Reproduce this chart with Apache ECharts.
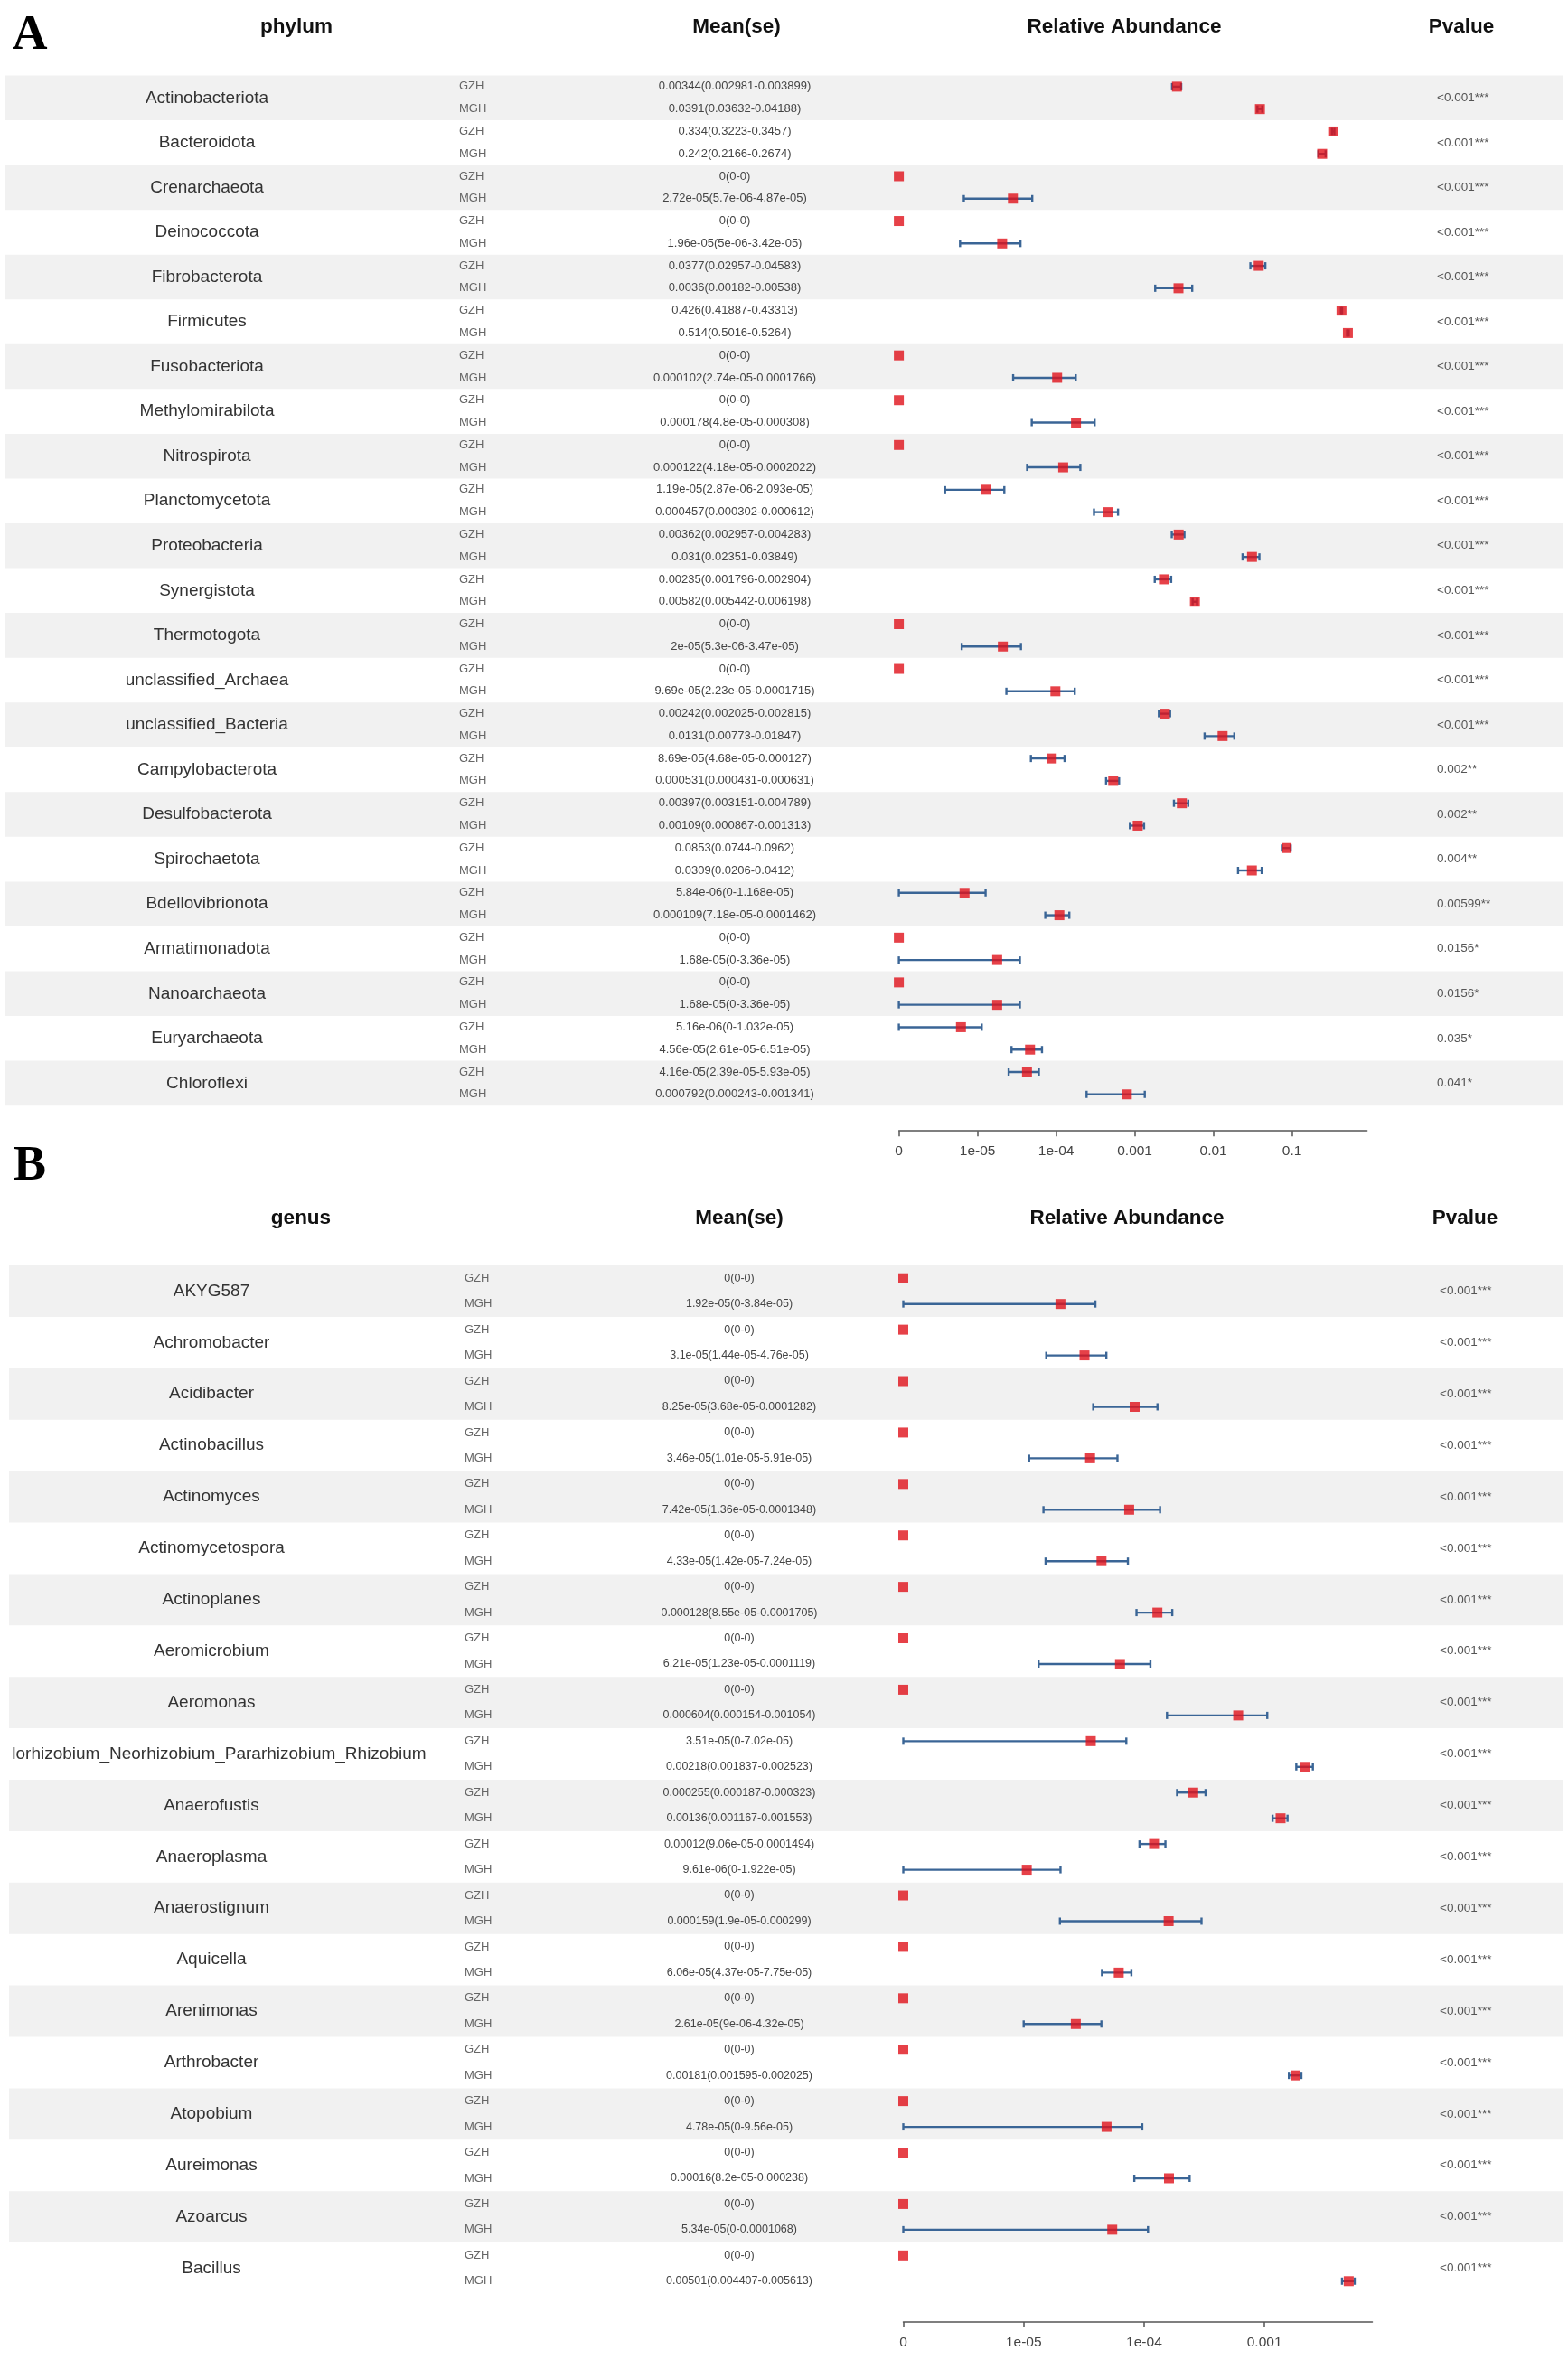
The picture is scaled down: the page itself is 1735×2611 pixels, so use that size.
<!DOCTYPE html>
<html>
<head>
<meta charset="utf-8">
<script src="https://cdn.jsdelivr.net/npm/echarts@6/dist/echarts.min.js"></script>
<style>
html,body{margin:0;padding:0;background:#fff;}
#chart{width:1735px;height:2611px;}
</style>
</head>
<body>
<div id="chart"></div>
<script>
// ---------------- Panel A : phylum ----------------
const TAXA_A = ["Actinobacteriota","Bacteroidota","Crenarchaeota","Deinococcota","Fibrobacterota","Firmicutes","Fusobacteriota","Methylomirabilota","Nitrospirota","Planctomycetota","Proteobacteria","Synergistota","Thermotogota","unclassified_Archaea","unclassified_Bacteria","Campylobacterota","Desulfobacterota","Spirochaetota","Bdellovibrionota","Armatimonadota","Nanoarchaeota","Euryarchaeota","Chloroflexi"];
const GZH_MEAN_A = [0.00344,0.334,0,0,0.0377,0.426,0,0,0,1.19e-05,0.00362,0.00235,0,0,0.00242,8.69e-05,0.00397,0.0853,5.84e-06,0,0,5.16e-06,4.16e-05];
const GZH_LO_A   = [0.002981,0.3223,0,0,0.02957,0.41887,0,0,0,2.87e-06,0.002957,0.001796,0,0,0.002025,4.68e-05,0.003151,0.0744,0,0,0,0,2.39e-05];
const GZH_HI_A   = [0.003899,0.3457,0,0,0.04583,0.43313,0,0,0,2.093e-05,0.004283,0.002904,0,0,0.002815,0.000127,0.004789,0.0962,1.168e-05,0,0,1.032e-05,5.93e-05];
const MGH_MEAN_A = [0.0391,0.242,2.72e-05,1.96e-05,0.0036,0.514,0.000102,0.000178,0.000122,0.000457,0.031,0.00582,2e-05,9.69e-05,0.0131,0.000531,0.00109,0.0309,0.000109,1.68e-05,1.68e-05,4.56e-05,0.000792];
const MGH_LO_A   = [0.03632,0.2166,5.7e-06,5e-06,0.00182,0.5016,2.74e-05,4.8e-05,4.18e-05,0.000302,0.02351,0.005442,5.3e-06,2.23e-05,0.00773,0.000431,0.000867,0.0206,7.18e-05,0,0,2.61e-05,0.000243];
const MGH_HI_A   = [0.04188,0.2674,4.87e-05,3.42e-05,0.00538,0.5264,0.0001766,0.000308,0.0002022,0.000612,0.03849,0.006198,3.47e-05,0.0001715,0.01847,0.000631,0.001313,0.0412,0.0001462,3.36e-05,3.36e-05,6.51e-05,0.001341];
const PVAL_A = ["<0.001***","<0.001***","<0.001***","<0.001***","<0.001***","<0.001***","<0.001***","<0.001***","<0.001***","<0.001***","<0.001***","<0.001***","<0.001***","<0.001***","<0.001***","0.002**","0.002**","0.004**","0.00599**","0.0156*","0.0156*","0.035*","0.041*"];
const TICK_VALUES_A = [0,1e-05,1e-04,0.001,0.01,0.1];
const TICK_LABELS_A = ["0","1e-05","1e-04","0.001","0.01","0.1"];

// ---------------- Panel B : genus ----------------
const TAXA_B = ["AKYG587","Achromobacter","Acidibacter","Actinobacillus","Actinomyces","Actinomycetospora","Actinoplanes","Aeromicrobium","Aeromonas","Allorhizobium_Neorhizobium_Pararhizobium_Rhizobium","Anaerofustis","Anaeroplasma","Anaerostignum","Aquicella","Arenimonas","Arthrobacter","Atopobium","Aureimonas","Azoarcus","Bacillus"];
const GZH_MEAN_B = [0,0,0,0,0,0,0,0,0,3.51e-05,0.000255,0.00012,0,0,0,0,0,0,0,0];
const GZH_LO_B   = [0,0,0,0,0,0,0,0,0,0,0.000187,9.06e-05,0,0,0,0,0,0,0,0];
const GZH_HI_B   = [0,0,0,0,0,0,0,0,0,7.02e-05,0.000323,0.0001494,0,0,0,0,0,0,0,0];
const MGH_MEAN_B = [1.92e-05,3.1e-05,8.25e-05,3.46e-05,7.42e-05,4.33e-05,0.000128,6.21e-05,0.000604,0.00218,0.00136,9.61e-06,0.000159,6.06e-05,2.61e-05,0.00181,4.78e-05,0.00016,5.34e-05,0.00501];
const MGH_LO_B   = [0,1.44e-05,3.68e-05,1.01e-05,1.36e-05,1.42e-05,8.55e-05,1.23e-05,0.000154,0.001837,0.001167,0,1.9e-05,4.37e-05,9e-06,0.001595,0,8.2e-05,0,0.004407];
const MGH_HI_B   = [3.84e-05,4.76e-05,0.0001282,5.91e-05,0.0001348,7.24e-05,0.0001705,0.0001119,0.001054,0.002523,0.001553,1.922e-05,0.000299,7.75e-05,4.32e-05,0.002025,9.56e-05,0.000238,0.0001068,0.005613];
const PVAL_B = ["<0.001***","<0.001***","<0.001***","<0.001***","<0.001***","<0.001***","<0.001***","<0.001***","<0.001***","<0.001***","<0.001***","<0.001***","<0.001***","<0.001***","<0.001***","<0.001***","<0.001***","<0.001***","<0.001***","<0.001***"];
const TICK_VALUES_B = [0,1e-05,1e-04,0.001];
const TICK_LABELS_B = ["0","1e-05","1e-04","0.001"];

const GROUPS = ["GZH","MGH"];

// ---------------- helpers ----------------
const FONT = "'Liberation Sans', Arial, Helvetica, sans-serif";
function xt(v){ return Math.log10(v + 1e-6); }          // pseudo-log position of a value
function tickPos(t){ return t === 0 ? -6 : Math.log10(t); }
function fmtR(v){                                         // R-like print of a number
  if (v === 0) return "0";
  const fixed = String(v);
  const ex = v.toExponential().split("e");
  const ev = parseInt(ex[1], 10);
  const sci = ex[0] + "e" + (ev < 0 ? "-" : "+") + String(Math.abs(ev)).padStart(2, "0");
  return fixed.length <= sci.length ? fixed : sci;
}
function meanSe(m, lo, hi){ return fmtR(m) + "(" + fmtR(lo) + "-" + fmtR(hi) + ")"; }

const panels = [
  { taxa: TAXA_A, gm: GZH_MEAN_A, gl: GZH_LO_A, gh: GZH_HI_A, mm: MGH_MEAN_A, ml: MGH_LO_A, mh: MGH_HI_A, p: PVAL_A,
    ticks: TICK_VALUES_A, tickLabels: TICK_LABELS_A,
    left: 994.6, width: 518, top: 83.5, rowH: 49.55, xmax: -0.046, axisOffset: 28,
    bandLeft: 5, nameX: 229, groupX: 508, meanX: 813, pX: 1590, meanFont: 13, groupFont: 13, pFont: 13.5 },
  { taxa: TAXA_B, gm: GZH_MEAN_B, gl: GZH_LO_B, gh: GZH_HI_B, mm: MGH_MEAN_B, ml: MGH_LO_B, mh: MGH_HI_B, p: PVAL_B,
    ticks: TICK_VALUES_B, tickLabels: TICK_LABELS_B,
    left: 999.5, width: 519, top: 1400, rowH: 56.9, xmax: -2.104, axisOffset: 31,
    bandLeft: 10, nameX: 234, groupX: 514, meanX: 818, pX: 1593, meanFont: 12.5, groupFont: 13, pFont: 13.5 }
];

const grid = [], xAxis = [], yAxis = [], series = [];

panels.forEach((P, idx) => {
  const n = P.taxa.length;
  const rows = [];
  for (let k = 0; k < n; k++) {
    rows.push({ r: 2*k,   g: GROUPS[0], m: P.gm[k], lo: P.gl[k], hi: P.gh[k] });
    rows.push({ r: 2*k+1, g: GROUPS[1], m: P.mm[k], lo: P.ml[k], hi: P.mh[k] });
  }
  grid.push({ left: P.left, top: P.top, width: P.width, height: P.rowH * n, containLabel: false, outerBoundsMode: 'none' });
  const labMap = {};
  P.ticks.forEach((t, i) => { labMap[tickPos(t).toFixed(3)] = P.tickLabels[i]; });
  const tickVals = P.ticks.map(tickPos);
  xAxis.push({
    gridIndex: idx, type: 'value', min: -6, max: P.xmax, position: 'bottom', offset: P.axisOffset,
    axisLine: { show: true, onZero: false, lineStyle: { color: '#555', width: 1.5 } },
    axisTick: { show: true, customValues: tickVals, length: 6, lineStyle: { color: '#555', width: 1.5 } },
    axisLabel: { show: true, customValues: tickVals, color: '#444', fontSize: 15.5, fontFamily: FONT, margin: 15,
                 formatter: v => { const s = labMap[Number(v).toFixed(3)]; return s === undefined ? '' : s; } },
    splitLine: { show: false }
  });
  yAxis.push({ gridIndex: idx, type: 'value', min: 0, max: 2*n, inverse: true, show: false });

  // background bands + taxon name + p value
  series.push({
    type: 'custom', xAxisIndex: idx, yAxisIndex: idx, clip: false, silent: true, z: 1,
    data: P.taxa.map((t, k) => [-6, 2*k, k]),
    encode: { x: 0, y: 1 },
    renderItem: (params, api) => {
      const k = api.value(2);
      const y0 = api.coord([-6, 2*k])[1], y1 = api.coord([-6, 2*k + 2])[1];
      const mid = (y0 + y1) / 2;
      const ch = [];
      if (k % 2 === 0) ch.push({ type: 'rect', shape: { x: P.bandLeft, y: y0, width: 1730 - P.bandLeft, height: y1 - y0 }, style: { fill: '#f1f1f1' } });
      ch.push({ type: 'text', style: { text: P.taxa[k], x: P.nameX, y: mid, align: 'center', verticalAlign: 'middle', fill: '#333', font: '19px ' + FONT } });
      ch.push({ type: 'text', style: { text: P.p[k], x: P.pX, y: mid, align: 'left', verticalAlign: 'middle', fill: '#555', font: P.pFont + 'px ' + FONT } });
      return { type: 'group', children: ch };
    }
  });

  // group label + mean(se) text per row
  series.push({
    type: 'custom', xAxisIndex: idx, yAxisIndex: idx, clip: false, silent: true, z: 2,
    data: rows.map((o, i) => [-6, o.r + 0.5, i]),
    encode: { x: 0, y: 1 },
    renderItem: (params, api) => {
      const o = rows[api.value(2)];
      const y = api.coord([-6, o.r + 0.5])[1];
      return { type: 'group', children: [
        { type: 'text', style: { text: o.g, x: P.groupX, y: y, align: 'left', verticalAlign: 'middle', fill: '#666', font: P.groupFont + 'px ' + FONT } },
        { type: 'text', style: { text: meanSe(o.m, o.lo, o.hi), x: P.meanX, y: y, align: 'center', verticalAlign: 'middle', fill: '#444', font: P.meanFont + 'px ' + FONT } }
      ]};
    }
  });

  // error bars
  series.push({
    type: 'custom', xAxisIndex: idx, yAxisIndex: idx, clip: false, silent: true, z: 3,
    data: rows.filter(o => o.hi > o.lo).map(o => [xt(o.lo), xt(o.hi), o.r + 0.5]),
    encode: { x: [0, 1], y: 2 },
    renderItem: (params, api) => {
      const a = api.coord([api.value(0), api.value(2)]);
      const b = api.coord([api.value(1), api.value(2)]);
      const st = { stroke: '#3a6596', lineWidth: 2.4 };
      return { type: 'group', children: [
        { type: 'line', shape: { x1: a[0], y1: a[1], x2: b[0], y2: b[1] }, style: st },
        { type: 'line', shape: { x1: a[0], y1: a[1] - 4, x2: a[0], y2: a[1] + 4 }, style: st },
        { type: 'line', shape: { x1: b[0], y1: b[1] - 4, x2: b[0], y2: b[1] + 4 }, style: st }
      ]};
    }
  });

  // mean markers
  series.push({
    type: 'scatter', xAxisIndex: idx, yAxisIndex: idx, clip: false, silent: true, z: 4,
    symbol: 'rect', symbolSize: [11, 11],
    itemStyle: { color: '#e0121a' },
    data: rows.map(o => [xt(o.m), o.r + 0.5])
  });
});

const hdr = (txt, x, y) => ({ type: 'text', x: x, y: y, style: { text: txt, align: 'center', verticalAlign: 'middle', fill: '#111', font: 'bold 22.5px ' + FONT }, z: 10 });
const graphic = [
  { type: 'text', x: 33, y: 40, style: { text: 'A', align: 'center', verticalAlign: 'middle', fill: '#000', font: 'bold 54px "Liberation Serif", "Times New Roman", serif' }, z: 10 },
  hdr('phylum', 328, 30), hdr('Mean(se)', 815, 30), hdr('Relative Abundance', 1244, 30), hdr('Pvalue', 1617, 30),
  { type: 'text', x: 33, y: 1291, style: { text: 'B', align: 'center', verticalAlign: 'middle', fill: '#000', font: 'bold 54px "Liberation Serif", "Times New Roman", serif' }, z: 10 },
  hdr('genus', 333, 1348), hdr('Mean(se)', 818, 1348), hdr('Relative Abundance', 1247, 1348), hdr('Pvalue', 1621, 1348),
  // the long genus label is cut at the left edge of the panel in the original figure
  { type: 'rect', shape: { x: 0, y: 1400 + 9 * 56.9, width: 13.3, height: 56.9 }, style: { fill: '#fff' }, z: 100 }
];

const chart = echarts.init(document.getElementById('chart'), null, { renderer: 'canvas' });
chart.setOption({
  backgroundColor: '#fff',
  animation: false,
  textStyle: { fontFamily: FONT },
  grid, xAxis, yAxis, series, graphic
});
</script>
</body>
</html>
